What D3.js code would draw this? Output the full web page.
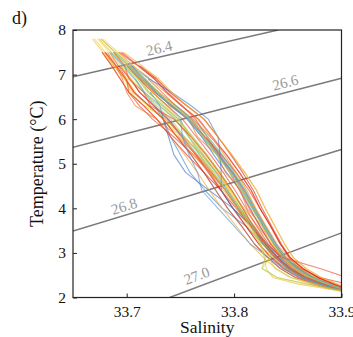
<!DOCTYPE html>
<html>
<head>
<meta charset="utf-8">
<script src="https://cdn.jsdelivr.net/npm/d3@7"></script>
<style>
  body { margin: 0; background: #fff; }
</style>
</head>
<body>
<div id="chart"></div>
<script>
const width = 353;
const height = 337;
const margin = { top: 30, right: 11.5, bottom: 39.5, left: 73 };
const serif = "'Liberation Serif', 'Times New Roman', Times, serif";

// temperature levels (°C) shared by every profile
const tempLevels = [7.8, 7.5, 7.2, 6.9, 6.6, 6.3, 6.0, 5.6, 5.2, 4.8, 4.4, 4.0, 3.6, 3.2, 2.9, 2.65, 2.45, 2.3, 2.2, 2.12];

// salinity of each profile at those levels (null = profile not present there)
// blue casts first, red casts last
const profileSalinity = [
  [null, null, null, 33.717, 33.728, 33.742, 33.757, 33.770, 33.781, 33.793, 33.806, 33.815, 33.824, 33.834, 33.845, 33.857, 33.870, 33.887, 33.899, 33.914],
  [null, null, null, null, 33.722, 33.731, 33.734, 33.739, 33.744, 33.755, 33.777, 33.799, 33.816, 33.831, 33.841, 33.853, 33.867, 33.884, 33.896, 33.912],
  [null, null, 33.704, 33.721, 33.742, 33.760, 33.776, 33.785, 33.787, 33.788, 33.788, 33.799, 33.816, 33.827, 33.838, 33.850, 33.864, 33.881, 33.894, 33.910],
  [null, null, null, null, null, 33.726, 33.734, 33.741, 33.750, 33.759, 33.773, 33.789, 33.811, 33.827, 33.841, 33.857, 33.871, 33.887, 33.899, 33.914],
  [null, null, 33.704, 33.717, 33.727, 33.741, 33.756, 33.770, 33.785, 33.799, 33.810, 33.819, 33.829, 33.839, 33.848, 33.860, 33.874, 33.890, 33.901, 33.916],
  [null, null, null, null, null, null, 33.750, 33.752, 33.758, 33.766, 33.770, 33.785, 33.800, 33.815, 33.832, 33.846, 33.862, 33.880, 33.893, 33.910],
  [null, null, null, null, null, null, null, 33.774, 33.787, 33.799, 33.810, 33.819, 33.829, 33.839, 33.848, 33.860, 33.874, 33.890, 33.901, 33.916],
  [null, 33.685, 33.697, 33.708, 33.717, 33.731, 33.745, 33.758, 33.771, 33.783, 33.794, 33.804, 33.816, 33.827, 33.838, 33.850, 33.864, 33.881, 33.894, 33.910],

  [null, null, 33.700, 33.714, 33.727, 33.742, 33.758, 33.772, 33.785, 33.797, 33.808, 33.817, 33.827, 33.837, 33.846, 33.858, 33.872, 33.888, 33.900, 33.915],
  [null, null, null, 33.708, 33.716, 33.726, 33.738, 33.752, 33.766, 33.780, 33.794, 33.806, 33.818, 33.830, 33.840, 33.851, 33.865, 33.882, 33.895, 33.911],
  [null, 33.690, 33.704, 33.717, 33.730, 33.745, 33.761, 33.776, 33.789, 33.800, 33.810, 33.819, 33.828, 33.838, 33.847, 33.858, 33.872, 33.888, 33.900, 33.916],
  [null, null, null, null, 33.707, 33.721, 33.734, 33.747, 33.760, 33.772, 33.783, 33.794, 33.807, 33.819, 33.831, 33.843, 33.857, 33.875, 33.889, 33.906],
  [null, null, null, 33.712, 33.724, 33.738, 33.750, 33.758, 33.768, 33.779, 33.792, 33.805, 33.818, 33.829, 33.840, 33.852, 33.866, 33.883, 33.896, 33.912],
  [null, 33.688, 33.702, 33.716, 33.728, 33.743, 33.758, 33.771, 33.784, 33.796, 33.807, 33.817, 33.828, 33.838, 33.848, 33.860, 33.874, 33.890, 33.902, 33.918],

  [33.676, 33.689, 33.701, 33.712, 33.721, 33.734, 33.748, 33.761, 33.774, 33.787, 33.798, 33.808, 33.818, 33.828, 33.836, 33.846, 33.862, 33.882, 33.896, 33.912],
  [null, 33.684, 33.696, 33.707, 33.716, 33.728, 33.741, 33.754, 33.768, 33.781, 33.793, 33.804, 33.816, 33.828, 33.838, 33.851, 33.865, 33.883, 33.896, 33.912],
  [null, null, 33.698, 33.710, 33.720, 33.734, 33.748, 33.762, 33.775, 33.787, 33.798, 33.808, 33.817, 33.825, 33.829, 33.826, 33.840, 33.868, 33.890, 33.908],
  [null, null, null, 33.716, 33.728, 33.743, 33.760, 33.775, 33.789, 33.801, 33.811, 33.820, 33.829, 33.838, 33.847, 33.859, 33.872, 33.888, 33.900, 33.916],
  [null, 33.687, 33.700, 33.711, 33.720, 33.733, 33.746, 33.758, 33.770, 33.781, 33.792, 33.802, 33.813, 33.824, 33.832, 33.838, 33.852, 33.876, 33.894, 33.911],
  [null, null, 33.712, 33.728, 33.741, 33.756, 33.772, 33.785, 33.798, 33.810, 33.821, 33.829, 33.838, 33.847, 33.855, 33.867, 33.881, 33.896, 33.906, 33.920],

  [33.673, 33.684, 33.694, 33.704, 33.716, 33.730, 33.745, 33.760, 33.774, 33.786, 33.797, 33.807, 33.818, 33.828, 33.834, 33.826, 33.840, 33.868, 33.890, 33.908],
  [33.678, 33.692, 33.706, 33.718, 33.730, 33.744, 33.758, 33.771, 33.784, 33.796, 33.807, 33.816, 33.826, 33.836, 33.845, 33.857, 33.871, 33.887, 33.899, 33.915],
  [33.670, 33.680, 33.690, 33.698, 33.704, 33.716, 33.738, 33.754, 33.770, 33.784, 33.796, 33.806, 33.817, 33.828, 33.839, 33.852, 33.867, 33.885, 33.898, 33.913],
  [33.668, 33.678, 33.688, 33.700, 33.708, 33.720, 33.734, 33.750, 33.766, 33.780, 33.793, 33.804, 33.815, 33.826, 33.837, 33.849, 33.863, 33.881, 33.895, 33.911],
  [33.676, 33.690, 33.702, 33.714, 33.724, 33.736, 33.748, 33.760, 33.772, 33.784, 33.795, 33.805, 33.815, 33.824, 33.828, 33.830, 33.836, 33.860, 33.886, 33.906],
  [33.674, 33.686, 33.698, 33.712, 33.726, 33.742, 33.758, 33.772, 33.786, 33.798, 33.808, 33.817, 33.827, 33.837, 33.846, 33.858, 33.872, 33.888, 33.900, 33.916],
  [null, 33.677, 33.686, 33.694, 33.702, 33.716, 33.728, 33.741, 33.754, 33.766, 33.777, 33.789, 33.802, 33.815, 33.827, 33.839, 33.853, 33.872, 33.886, 33.904],
  [null, 33.697, 33.714, 33.730, 33.742, 33.756, 33.772, 33.785, 33.798, 33.810, 33.821, 33.829, 33.838, 33.847, 33.855, 33.867, 33.881, 33.896, 33.906, 33.920],

  [null, 33.680, 33.690, 33.699, 33.707, 33.721, 33.734, 33.747, 33.762, 33.777, 33.790, 33.805, 33.819, 33.831, 33.843, 33.855, 33.869, 33.885, 33.898, 33.913],
  [null, null, 33.706, 33.722, 33.736, 33.751, 33.766, 33.779, 33.791, 33.802, 33.812, 33.820, 33.830, 33.840, 33.850, 33.862, 33.876, 33.892, 33.903, 33.918],
  [null, 33.679, 33.688, 33.698, 33.706, 33.720, 33.736, 33.753, 33.770, 33.784, 33.797, 33.809, 33.822, 33.835, 33.845, 33.857, 33.870, 33.886, 33.898, 33.914],
  [null, 33.692, 33.706, 33.714, 33.730, 33.740, 33.758, 33.766, 33.784, 33.792, 33.806, 33.812, 33.826, 33.834, 33.846, 33.856, 33.870, 33.886, 33.898, 33.914],
  [null, 33.682, 33.690, 33.696, 33.700, 33.708, 33.728, 33.748, 33.765, 33.779, 33.792, 33.803, 33.815, 33.827, 33.838, 33.851, 33.865, 33.883, 33.896, 33.912],
  [null, null, 33.702, 33.716, 33.730, 33.746, 33.762, 33.778, 33.793, 33.805, 33.816, 33.824, 33.834, 33.843, 33.852, 33.864, 33.878, 33.893, 33.904, 33.918],
  [null, null, null, 33.720, 33.733, 33.746, 33.760, 33.773, 33.786, 33.798, 33.809, 33.818, 33.827, 33.837, 33.847, 33.859, 33.873, 33.889, 33.901, 33.917],

  [null, 33.688, 33.698, 33.702, 33.716, 33.722, 33.744, 33.760, 33.774, 33.786, 33.798, 33.808, 33.818, 33.830, 33.845, 33.880, 33.905, null, null, null],
  [null, 33.684, 33.692, 33.700, 33.702, 33.712, 33.724, 33.744, 33.762, 33.778, 33.792, 33.804, 33.817, 33.829, 33.840, 33.852, 33.866, 33.883, 33.896, 33.912],
  [null, null, 33.700, 33.712, 33.724, 33.738, 33.752, 33.765, 33.778, 33.790, 33.801, 33.811, 33.821, 33.832, 33.843, 33.862, 33.880, 33.905, null, null],
  [null, 33.693, 33.710, 33.726, 33.738, 33.752, 33.764, 33.775, 33.786, 33.796, 33.805, 33.814, 33.824, 33.834, 33.843, 33.854, 33.867, 33.884, 33.896, 33.912],
  [null, null, 33.702, 33.714, 33.726, 33.742, 33.758, 33.773, 33.788, 33.802, 33.814, 33.824, 33.834, 33.843, 33.851, 33.861, 33.873, 33.888, 33.899, 33.915],
  [null, 33.695, 33.711, 33.726, 33.737, 33.751, 33.767, 33.780, 33.793, 33.805, 33.816, 33.824, 33.834, 33.843, 33.852, 33.864, 33.878, 33.893, 33.904, 33.918],
  [null, null, 33.694, 33.704, 33.712, 33.725, 33.738, 33.751, 33.764, 33.776, 33.788, 33.799, 33.811, 33.823, 33.835, 33.848, 33.863, 33.881, 33.895, 33.911],
  [null, 33.680, 33.690, 33.699, 33.707, 33.721, 33.734, 33.747, 33.760, 33.772, 33.783, 33.794, 33.807, 33.819, 33.831, 33.843, 33.857, 33.875, 33.889, 33.906],
  [null, null, 33.712, 33.728, 33.740, 33.756, 33.772, 33.785, 33.797, 33.808, 33.818, 33.826, 33.835, 33.844, 33.852, 33.864, 33.878, 33.893, 33.904, 33.918],
  [null, null, 33.693, 33.703, 33.712, 33.726, 33.739, 33.752, 33.765, 33.777, 33.788, 33.799, 33.811, 33.823, 33.834, 33.846, 33.860, 33.878, 33.891, 33.908],
  [null, 33.677, 33.686, 33.694, 33.702, 33.716, 33.728, 33.741, 33.756, 33.772, 33.788, 33.802, 33.816, 33.829, 33.840, 33.852, 33.866, 33.883, 33.896, 33.912]
];

// isopycnals (sigma-theta), each as two [salinity, temperature] end points
const densityLabels = ["26.4", "26.6", "26.8", "27.0"];
const densityLines = [
  [[33.65, 6.95], [33.841, 8.0]],
  [[33.65, 5.37], [33.9, 6.92]],
  [[33.65, 3.49], [33.9, 5.32]],
  [[33.740, 2.0], [33.9, 3.45]]
];

const xTicks = [33.7, 33.8, 33.9];
const yTicks = [2, 3, 4, 5, 6, 7, 8];

const x = d3.scaleLinear().domain([33.65, 33.9]).range([margin.left, width - margin.right]);
const y = d3.scaleLinear().domain([2, 8]).range([height - margin.bottom, margin.top]);

const color = d3.scaleLinear()
  .domain([0, 0.16, 0.3, 0.45, 0.62, 0.8, 1])
  .range(["#416cc4", "#56a8dc", "#86c56f", "#f0dd3a", "#f59a30", "#e8452a", "#e0241c"]);

const svg = d3.select("#chart").append("svg")
  .attr("width", width)
  .attr("height", height)
  .style("font-family", serif);

svg.append("defs").append("clipPath")
  .attr("id", "plot-clip")
  .append("rect")
  .attr("x", margin.left)
  .attr("y", margin.top)
  .attr("width", width - margin.left - margin.right)
  .attr("height", height - margin.top - margin.bottom);

const plot = svg.append("g").attr("clip-path", "url(#plot-clip)");

// density contours
plot.append("g")
  .selectAll("line")
  .data(densityLines)
  .join("line")
  .attr("x1", d => x(d[0][0]))
  .attr("y1", d => y(d[0][1]))
  .attr("x2", d => x(d[1][0]))
  .attr("y2", d => y(d[1][1]))
  .attr("stroke", "#7a7a7a")
  .attr("stroke-width", 1.5);

// T-S profiles, drawn in a shuffled order so the colours mix
const line = d3.line()
  .defined(d => d[0] != null)
  .x(d => x(d[0]))
  .y(d => y(d[1]));

const n = profileSalinity.length;
const casts = profileSalinity.map((sal, i) => ({ i, pts: sal.map((s, j) => [s, tempLevels[j]]) }))
  .sort((a, b) => ((a.i * 17) % n) - ((b.i * 17) % n));

plot.append("g")
  .attr("fill", "none")
  .attr("stroke-width", 1.1)
  .attr("stroke-opacity", 0.64)
  .attr("stroke-linejoin", "round")
  .selectAll("path")
  .data(casts)
  .join("path")
  .attr("stroke", d => color(d.i / (n - 1)))
  .attr("d", d => line(d.pts));

// contour labels, placed along each line and lifted off it
const labelAt = [0.43, 0.80, 0.2, 0.18];
const labelLift = [9, 10, 9, 11];
svg.append("g")
  .selectAll("text")
  .data(densityLines)
  .join("text")
  .attr("transform", (d, i) => {
    const x0 = x(d[0][0]), y0 = y(d[0][1]), x1 = x(d[1][0]), y1 = y(d[1][1]);
    const a = Math.atan2(y1 - y0, x1 - x0);
    const px = x0 + (x1 - x0) * labelAt[i] + Math.sin(a) * labelLift[i];
    const py = y0 + (y1 - y0) * labelAt[i] - Math.cos(a) * labelLift[i];
    return `translate(${px},${py}) rotate(${a * 180 / Math.PI})`;
  })
  .attr("text-anchor", "middle")
  .attr("dy", "0.35em")
  .attr("fill", "#9a9a9a")
  .attr("font-size", 15)
  .style("font-family", serif)
  .text((d, i) => densityLabels[i]);

// frame
svg.append("rect")
  .attr("x", margin.left)
  .attr("y", margin.top)
  .attr("width", width - margin.left - margin.right)
  .attr("height", height - margin.top - margin.bottom)
  .attr("fill", "none")
  .attr("stroke", "#222")
  .attr("stroke-width", 1.2);

const xAxis = svg.append("g")
  .attr("transform", `translate(0,${height - margin.bottom})`)
  .call(d3.axisBottom(x).tickValues(xTicks).tickFormat(d3.format(".1f"))
    .tickSizeInner(-4).tickSizeOuter(0).tickPadding(8));
xAxis.select(".domain").remove();

const yAxis = svg.append("g")
  .attr("transform", `translate(${margin.left},0)`)
  .call(d3.axisLeft(y).tickValues(yTicks).tickFormat(d3.format("d"))
    .tickSizeInner(-4).tickSizeOuter(0).tickPadding(7));
yAxis.select(".domain").remove();

svg.selectAll(".tick text")
  .attr("font-size", 15.5)
  .attr("fill", "#111")
  .style("font-family", serif);
svg.selectAll(".tick line").attr("stroke", "#222");

svg.append("text")
  .attr("x", (margin.left + width - margin.right) / 2)
  .attr("y", 333)
  .attr("text-anchor", "middle")
  .attr("font-size", 17.5)
  .attr("fill", "#111")
  .style("font-family", serif)
  .text("Salinity");

svg.append("text")
  .attr("transform", `translate(43,${(margin.top + height - margin.bottom) / 2}) rotate(-90)`)
  .attr("text-anchor", "middle")
  .attr("font-size", 18)
  .attr("fill", "#111")
  .style("font-family", serif)
  .text("Temperature (°C)");

svg.append("text")
  .attr("x", 12)
  .attr("y", 24)
  .attr("font-size", 18)
  .attr("fill", "#111")
  .style("font-family", serif)
  .text("d)");
</script>
</body>
</html>
